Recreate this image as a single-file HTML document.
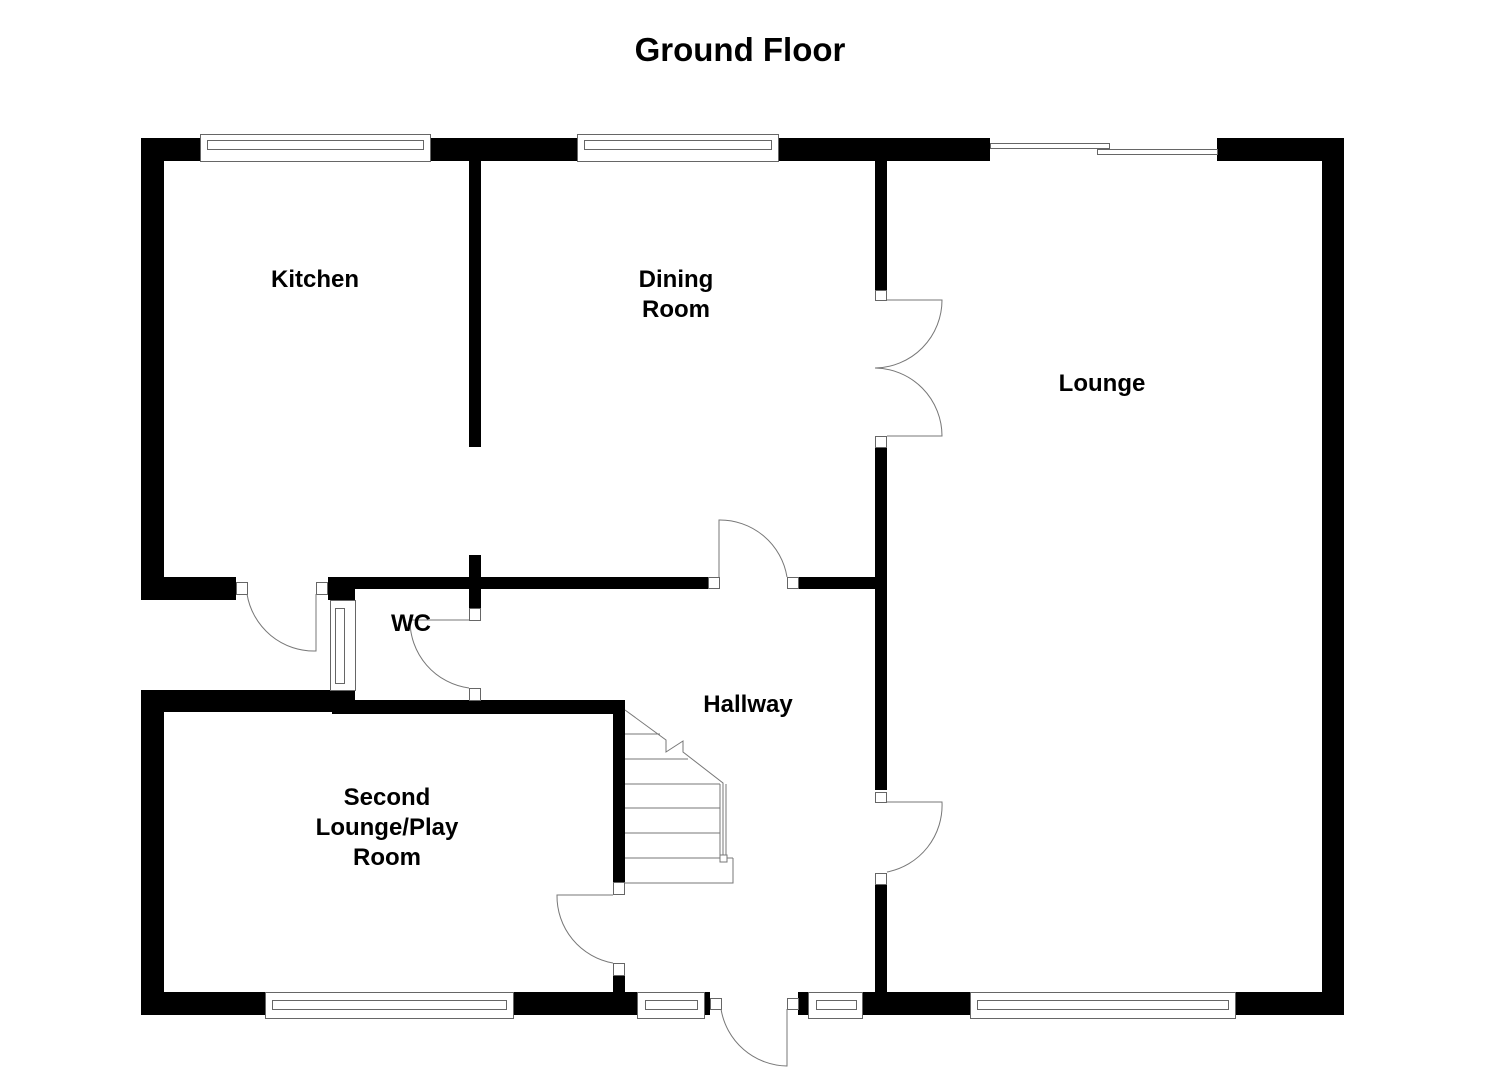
<!DOCTYPE html>
<html><head><meta charset="utf-8"><style>
html,body{margin:0;padding:0;background:#fff;}
svg{display:block;}
text{font-family:"Liberation Sans",Arial,sans-serif;font-weight:bold;fill:#000;}
</style></head><body>
<svg width="1485" height="1080" viewBox="0 0 1485 1080" xmlns="http://www.w3.org/2000/svg">
<text x="740" y="61" font-size="33" text-anchor="middle">Ground Floor</text>
<g fill="#000">
<rect x="141" y="138" width="59" height="23"/>
<rect x="430" y="138" width="147" height="23"/>
<rect x="778" y="138" width="212" height="23"/>
<rect x="1217" y="138" width="127" height="23"/>
<rect x="1322" y="138" width="22" height="877"/>
<rect x="141" y="138" width="23" height="462"/>
<rect x="141" y="577" width="95" height="23"/>
<rect x="469" y="160" width="12" height="287"/>
<rect x="469" y="555" width="12" height="53"/>
<rect x="328" y="577" width="380" height="12"/>
<rect x="328" y="577" width="27" height="23"/>
<rect x="798" y="577" width="77" height="12"/>
<rect x="875" y="160" width="12" height="130"/>
<rect x="875" y="447" width="12" height="343"/>
<rect x="875" y="885" width="12" height="110"/>
<rect x="141" y="690" width="214" height="22"/>
<rect x="332" y="690" width="23" height="24"/>
<rect x="332" y="700" width="293" height="14"/>
<rect x="613" y="700" width="12" height="182"/>
<rect x="141" y="690" width="23" height="325"/>
<rect x="141" y="992" width="124" height="23"/>
<rect x="513" y="992" width="124" height="23"/>
<rect x="613" y="975" width="12" height="20"/>
<rect x="705" y="992" width="5" height="23"/>
<rect x="798" y="992" width="10" height="23"/>
<rect x="862" y="992" width="108" height="23"/>
<rect x="1235" y="992" width="109" height="23"/>
</g>
<g fill="#fff" stroke="#666" stroke-width="1">
<rect x="200.5" y="134.5" width="230" height="27"/>
<rect x="207.5" y="140.5" width="216" height="9"/>
<rect x="577.5" y="134.5" width="201" height="27"/>
<rect x="584.5" y="140.5" width="187" height="9"/>
<rect x="990.5" y="143.5" width="119" height="5"/>
<rect x="1097.5" y="149.5" width="120" height="5"/>
<rect x="265.5" y="992.5" width="248" height="26"/>
<rect x="272.5" y="1000.5" width="234" height="9"/>
<rect x="637.5" y="992.5" width="67" height="26"/>
<rect x="645.5" y="1000.5" width="52" height="9"/>
<rect x="808.5" y="992.5" width="54" height="26"/>
<rect x="816.5" y="1000.5" width="40" height="9"/>
<rect x="970.5" y="992.5" width="265" height="26"/>
<rect x="977.5" y="1000.5" width="251" height="9"/>
<rect x="330.5" y="600.5" width="25" height="90"/>
<rect x="335.5" y="608.5" width="9" height="75"/>
<rect x="236.5" y="582.5" width="11" height="12"/>
<rect x="316.5" y="582.5" width="11" height="12"/>
<rect x="708.5" y="577.5" width="11" height="11"/>
<rect x="787.5" y="577.5" width="11" height="11"/>
<rect x="469.5" y="608.5" width="11" height="12"/>
<rect x="469.5" y="688.5" width="11" height="12"/>
<rect x="875.5" y="290.5" width="11" height="10"/>
<rect x="875.5" y="436.5" width="11" height="11"/>
<rect x="875.5" y="792.5" width="11" height="10"/>
<rect x="875.5" y="873.5" width="11" height="11"/>
<rect x="613.5" y="882.5" width="11" height="12"/>
<rect x="613.5" y="963.5" width="11" height="12"/>
<rect x="710.5" y="998.5" width="11" height="11"/>
<rect x="787.5" y="998.5" width="11" height="11"/>
</g>
<g fill="none" stroke="#777" stroke-width="1">
<path d="M316 594 V651 A 68 68 0 0 1 247 594"/>
<path d="M719 577 V520 A 68 68 0 0 1 787 577"/>
<path d="M469 620 H410 A 68 68 0 0 0 469 688"/>
<path d="M887 300 H942 A 68 68 0 0 1 875 368 A 68 68 0 0 1 942 436 H887"/>
<path d="M887 802 H942 A 68 68 0 0 1 887 872"/>
<path d="M613 895 H557 A 68 68 0 0 0 613 963"/>
<path d="M787 1009 V1066 A 68 68 0 0 1 721 1009"/>
<path d="M625 710 L666 740 L666 752 L683 741 L683 752 L723 783 L723 858"/>
<line x1="625" y1="734" x2="660" y2="734"/>
<line x1="625" y1="759" x2="688" y2="759"/>
<line x1="625" y1="784" x2="720" y2="784"/>
<line x1="625" y1="808" x2="720" y2="808"/>
<line x1="625" y1="833" x2="720" y2="833"/>
<line x1="625" y1="858" x2="733" y2="858"/>
<line x1="720" y1="784" x2="720" y2="858"/>
<line x1="726" y1="784" x2="726" y2="858"/>
<path d="M625 883 H733 V858"/>
<rect x="720" y="855" width="7" height="7" fill="#fff"/>
</g>
<g font-size="24" text-anchor="middle">
<text x="315" y="287">Kitchen</text>
<text x="676" y="287">Dining</text>
<text x="676" y="317">Room</text>
<text x="1102" y="391">Lounge</text>
<text x="411" y="631">WC</text>
<text x="748" y="712">Hallway</text>
<text x="387" y="805">Second</text>
<text x="387" y="835">Lounge/Play</text>
<text x="387" y="865">Room</text>
</g>
</svg>
</body></html>
